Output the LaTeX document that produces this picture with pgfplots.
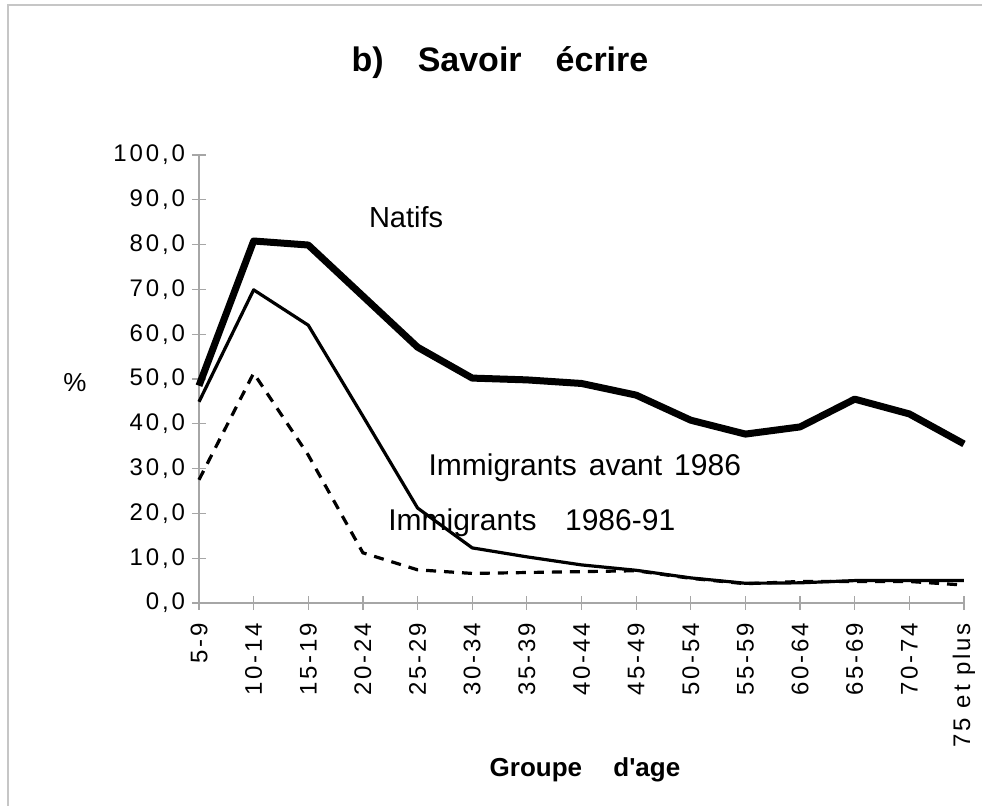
\documentclass[border=0pt]{standalone}
\usepackage{pgfplots}
\pgfplotsset{compat=1.18}
\usepackage{fontspec}
\setmainfont{Liberation Sans}
\newfontfamily\tickfont[LetterSpace=12]{Liberation Sans}

\begin{document}
\begin{tikzpicture}
\useasboundingbox (-99.5pt,-101.5pt) rectangle (391.5pt,301.5pt);
% scan frame
\draw[gray!45, line width=0.8pt] (-95.5pt,-101.5pt) -- (-95.5pt,299pt) -- (391.5pt,299pt);

\begin{axis}[
  at={(0pt,0pt)}, anchor=south west,
  scale only axis, width=382.5pt, height=224pt,
  xmin=0, xmax=14, ymin=0, ymax=100,
  axis lines*=left,
  axis line style={gray!70, line width=0.8pt},
  tick align=center, major tick length=7pt,
  tick style={gray!70, line width=0.6pt},
  xtick={0,...,14},
  xticklabels={5-9,10-14,15-19,20-24,25-29,30-34,35-39,40-44,45-49,50-54,55-59,60-64,65-69,70-74,75 et plus},
  x tick label style={rotate=90, anchor=east, font=\tickfont\fontsize{12}{14}\selectfont},
  xticklabel shift=3pt,
  ytick={0,10,...,100},
  yticklabels={{0,0},{10,0},{20,0},{30,0},{40,0},{50,0},{60,0},{70,0},{80,0},{90,0},{100,0}},
  y tick label style={font=\tickfont\fontsize{12}{14}\selectfont},
  clip=false,
]
% Immigrants 1986-91
\addplot[black, line width=1.6pt, dash pattern=on 5pt off 4pt] coordinates {
  (0,27.5)(1,51.3)(2,33.0)(3,11.2)(4,7.4)(5,6.6)(6,6.8)(7,7.0)(8,7.2)(9,5.5)(10,4.3)(11,4.8)(12,4.8)(13,4.8)(14,4.0)
};
% Immigrants avant 1986
\addplot[black, line width=1.6pt, line join=round] coordinates {
  (0,44.9)(1,69.9)(2,62.0)(3,41.7)(4,21.2)(5,12.3)(6,10.3)(7,8.5)(8,7.3)(9,5.6)(10,4.4)(11,4.5)(12,5.0)(13,5.0)(14,5.0)
};
% Natifs
\addplot[black, line width=3.5pt, line join=round] coordinates {
  (0,48.5)(1,80.8)(2,79.9)(3,68.5)(4,57.1)(5,50.2)(6,49.8)(7,49.0)(8,46.4)(9,40.8)(10,37.7)(11,39.3)(12,45.5)(13,42.2)(14,35.5)
};
\node[font=\fontsize{14.5}{17}\selectfont] at (axis cs:3.79,86.2) {Natifs};
\node[font=\fontsize{15}{18}\selectfont] at (axis cs:7.06,30.1) {Immigrants\hspace{0.4em}avant\hspace{0.4em}1986};
\node[font=\fontsize{15}{18}\selectfont] at (axis cs:6.09,17.9) {Immigrants\hspace{0.95em}1986-91};
\end{axis}

\node[font=\bfseries\fontsize{17}{20}\selectfont] at (150.5pt,270pt) {b)\hspace{1em}Savoir\hspace{1em}écrire};
\node[font=\fontsize{13}{15}\selectfont] at (-62pt,110pt) {\%};
\node[font=\bfseries\fontsize{13}{15}\selectfont] at (193pt,-83.5pt) {Groupe\hspace{1.2em}d\textquotesingle age};
\end{tikzpicture}
\end{document}
